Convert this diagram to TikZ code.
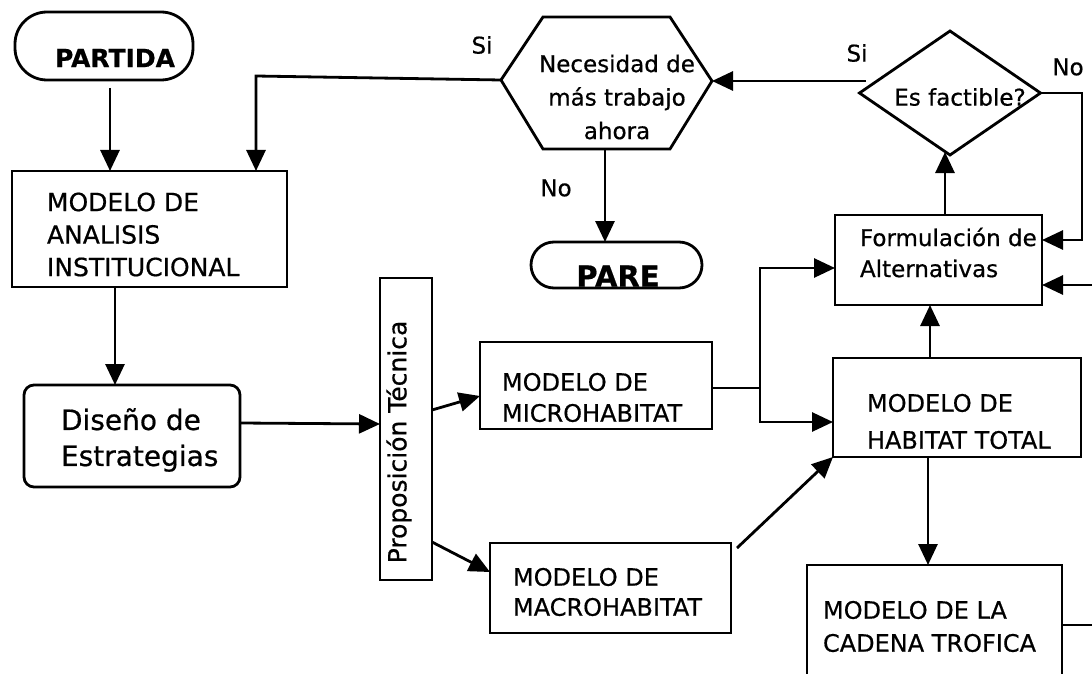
\documentclass[tikz,border=0pt]{standalone}
\usepackage{fontspec}
\setmainfont{DejaVu Sans}[FakeBold=0.6]
\usetikzlibrary{arrows.meta,shapes.geometric,calc}
\begin{document}
\begin{tikzpicture}[x=1pt,y=-1pt,
  every node/.style={inner sep=0pt, outer sep=0pt},
  line/.style={line width=2.8pt, line join=miter},
  arr/.style={line width=2.8pt, -{Triangle[length=21pt,width=19pt]}},
  box/.style={draw, line width=2.8pt},
  tb/.style={font=\fontsize{24}{31}\selectfont, align=left, anchor=west},
  lab/.style={font=\fontsize{23}{27}\selectfont},
]
\useasboundingbox (0,0) rectangle (1092,674);
\fill[white] (0,0) rectangle (1092,674);
\clip (0,0) rectangle (1092,674);

% terminals
\node[box, rounded corners=32pt, minimum width=178pt, minimum height=68pt] (part) at (104,46) {};
\node[font=\bfseries\fontsize{25}{30}\selectfont] (partT) at (115,58) {PARTIDA};
\node[box, rounded corners=23pt, minimum width=171pt, minimum height=46pt] (pare) at (616.5,265) {};
\node[font=\bfseries\fontsize{29}{34}\selectfont] (pareT) at (618,276) {PARE};

% boxes
\node[box, minimum width=275pt, minimum height=116pt] (mai) at (149.5,229) {};
\node[tb, font=\fontsize{25}{32.5}\selectfont] (maiT) at (47,234.5) {MODELO DE\\ANALISIS\\INSTITUCIONAL};

\node[box, rounded corners=10pt, minimum width=216pt, minimum height=102pt] (dis) at (132,436) {};
\node[font=\fontsize{28}{36}\selectfont, align=left, anchor=west] (disT) at (61,440) {Diseño de\\Estrategias};

\node[box, minimum width=52pt, minimum height=302pt] (prop) at (406,429) {};
\node[rotate=90, font=\fontsize{25}{30}\selectfont] (propT) at (399,442) {Proposición Técnica};

\node[box, minimum width=232pt, minimum height=87pt] (mic) at (596,385.5) {};
\node[tb, font=\fontsize{24}{31}\selectfont] (micT) at (502,397.5) {MODELO DE\\MICROHABITAT};

\node[box, minimum width=241pt, minimum height=90pt] (mac) at (610.5,588) {};
\node[tb, font=\fontsize{24}{30}\selectfont] (macT) at (513,592) {MODELO DE\\MACROHABITAT};

\node[box, minimum width=248pt, minimum height=99pt] (ht) at (957,407.5) {};
\node[tb, font=\fontsize{24}{37}\selectfont] (htT) at (867,421.5) {MODELO DE\\HABITAT TOTAL};

\node[box, minimum width=207pt, minimum height=90pt] (form) at (938.5,260) {};
\node[tb, font=\fontsize{23}{31}\selectfont] (formT) at (860,252.5) {Formulación de\\Alternativas};

\node[box, minimum width=255pt, minimum height=130pt] (tro) at (934.5,630) {};
\node[tb, font=\fontsize{24}{33}\selectfont] (troT) at (823,626.5) {MODELO DE LA\\CADENA TROFICA};

% hexagon decision
\draw[line] (501,80) -- (543,17) -- (670,17) -- (712,81) -- (670,149) -- (543,149) -- cycle;
\coordinate (hexL) at (501,80);
\coordinate (hexR) at (712,81);
\coordinate (hexB) at (605,149);
\node[font=\fontsize{23}{33.5}\selectfont, align=center] (hexT) at (617,97) {Necesidad de\\más trabajo\\ahora};

% diamond decision
\node[diamond, draw, line width=2.8pt, minimum width=181pt, minimum height=124pt] (fac) at (950,93) {};
\node[font=\fontsize{23}{28}\selectfont] (facT) at (960,97) {Es factible?};

% labels
\node[lab] (l1) at (482,45) {Si};
\node[lab] (l2) at (857,53) {Si};
\node[lab] (l3) at (1068,67) {No};
\node[lab] (l4) at (556,188) {No};

% free ends at the right border
\coordinate (rEdge1) at (1094,285);
\coordinate (rEdge2) at (1094,625);

% connectors
\draw[arr] (110,88) -- (110,0 |- mai.north);
\draw[arr] (hexL) -- (256,76) -- (256,0 |- mai.north);
\draw[arr] (115,0 |- mai.south) -- (115,0 |- dis.north);
\draw[arr] (dis.east |- 0,423) -- (prop.west |- 0,424);
\draw[arr] (prop.east |- 0,410) -- (mic.west |- 0,396);
\draw[arr] (prop.east |- 0,542) -- (mac.west |- 0,572);
\draw[line] (mic.east |- 0,388) -- (760,388);
\draw[arr] (760,388) -- (760,268) -- (form.west |- 0,268);
\draw[arr] (760,388) -- (760,422) -- (ht.west |- 0,422);
\draw[arr] (mac.north east) ++(6,5) -- (ht.south west);
\draw[arr] (930,0 |- ht.north) -- (930,0 |- form.south);
\draw[arr] (928,0 |- ht.south) -- (928,0 |- tro.north);
\draw[arr] (945,0 |- form.north) -- (945,152);
\draw[arr] (866,81) -- (hexR);
\draw[arr] (fac.east) -- (1082,93) -- (1082,240) -- (form.east |- 0,240);
\draw[arr] (rEdge1) -- (form.east |- rEdge1);
\draw[line] (tro.east |- rEdge2) -- (rEdge2);
\draw[arr] (hexB) -- (605,0 |- pare.north);
\end{tikzpicture}
\end{document}
